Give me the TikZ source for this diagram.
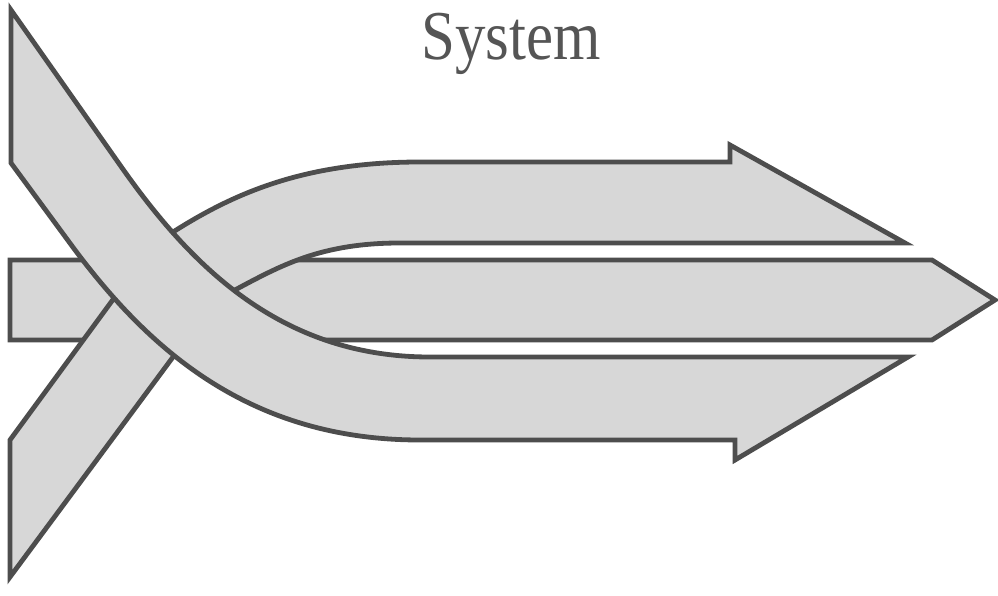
\documentclass[tikz,border=0pt]{standalone}
\usepackage{fontspec}
\setmainfont{Liberation Serif}

\definecolor{bandfill}{HTML}{D7D7D7}
\definecolor{bandline}{HTML}{4D4D4D}
\definecolor{titlegray}{HTML}{555555}
\tikzset{band/.style={fill=bandfill, draw=bandline, line width=4.8pt, line join=miter}}

\begin{document}
\begin{tikzpicture}[x=1pt, y=-1pt]
	% page frame
	\useasboundingbox (0,0) rectangle (998,596);
	
	% title
	\node[titlegray, anchor=base, font=\fontsize{70}{70}\selectfont, xscale=0.87] (title) at (511,60) {System};
	
	% middle arrow (straight)
	\draw[band] (10,260) -- (932,260) -- (995,300) -- (932,340) -- (10,340) -- cycle;
	
	% band from lower left, bends into the upper arrow
	\draw[band] (10,440) -- (10,577) -- (173,357) -- (205,318) -- (233,291)
		.. controls (280,266) and (320,243) .. (400,243) -- (905,243) -- (730,145) -- (730,162) -- (420,162)
		.. controls (300,162) and (230,196) .. (173,232) -- (120,290) -- cycle;
	
	% band from upper left, bends into the lower arrow (on top)
	\draw[band] (11,10) -- (120,165) .. controls (190,265) and (280,357) .. (430,357) -- (908,357)
		-- (735,460) -- (735,440) -- (420,440) .. controls (250,440) and (150,350) .. (75,250) -- (11,163) -- cycle;
\end{tikzpicture}
\end{document}
